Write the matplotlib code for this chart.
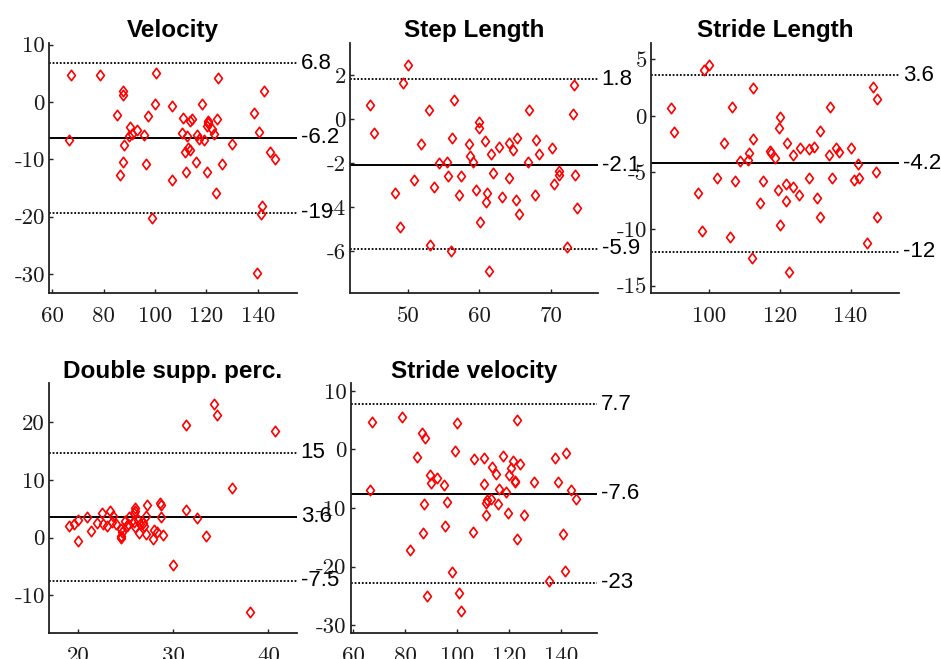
import numpy as np
import matplotlib
matplotlib.use("Agg")
import matplotlib.pyplot as plt
from matplotlib.path import Path

# ---------------- data ----------------
titles = ["Velocity", "Step Length", "Stride Length", "Double supp. perc.", "Stride velocity"]

vel_x = [67.3, 78.6, 100.5, 124.5, 87.4, 87.5, 142.3, 99.9, 106.8, 118.4, 85.1, 97.1, 110.9, 114.3,
         113.6, 124.2, 138.4, 120.5, 120.8, 120.1, 122.1, 122.9, 90.1, 92.9, 90.9, 89.7, 95.7, 110.5,
         112.5, 116.2, 117.0, 119.2, 140.4, 66.4, 87.9, 130.1, 113.0, 113.8, 111.6, 144.8, 146.9, 87.5,
         96.4, 115.8, 126.1, 86.5, 112.0, 120.3, 106.8, 123.8, 141.7, 141.3, 99.0, 139.6]
vel_y = [4.66, 4.66, 5.0, 4.2, 1.86, 1.28, 1.86, -0.4, -0.7, -0.3, -2.27, -2.45, -2.74, -2.9,
         -3.3, -3.0, -1.9, -3.3, -3.7, -4.2, -4.66, -5.5, -4.37, -4.9, -5.5, -5.9, -5.8, -5.4,
         -5.9, -5.8, -6.4, -6.7, -5.2, -6.6, -7.46, -7.3, -8.0, -8.3, -8.7, -8.7, -9.9, -10.4,
         -10.8, -10.5, -10.8, -12.8, -12.2, -12.2, -13.6, -15.9, -18.1, -19.6, -20.3, -29.8]

step_x = [50.0, 49.3, 73.2, 44.7, 56.5, 53.0, 67.0, 73.1, 60.0, 60.0, 45.2, 56.2, 65.3, 67.9, 51.9,
          58.6, 60.8, 62.7, 64.1, 64.7, 70.1, 61.6, 58.7, 68.4, 59.1, 54.4, 55.5, 66.8, 55.6, 57.5,
          61.9, 71.1, 71.2, 73.4, 50.9, 64.2, 70.5, 48.2, 53.6, 59.5, 61.0, 57.1, 63.1, 67.8, 60.9,
          65.1, 65.6, 73.6, 60.1, 48.9, 53.1, 56.0, 72.3, 61.4]
step_y = [2.43, 1.65, 1.54, 0.62, 0.86, 0.42, 0.39, 0.21, -0.12, -0.39, -0.62, -0.85, -0.85, -0.94,
          -1.13, -1.12, -1.01, -1.25, -1.1, -1.43, -1.33, -1.57, -1.68, -1.57, -1.96, -1.98, -1.95,
          -1.95, -2.61, -2.6, -2.46, -2.37, -2.54, -2.55, -2.75, -2.67, -2.94, -3.35, -3.11, -3.23,
          -3.37, -3.47, -3.55, -3.43, -3.76, -3.7, -4.32, -4.05, -4.68, -4.9, -5.72, -5.99, -5.8, -6.9]

sl_x = [99.9, 98.5, 112.5, 146.3, 147.4, 89.2, 106.3, 134.3, 120.1, 119.8, 90.0, 131.4, 112.5, 104.2,
        122.1, 125.8, 128.3, 129.5, 135.8, 136.8, 140.1, 117.2, 117.4, 111.3, 123.8, 133.9, 118.5,
        108.7, 110.9, 142.1, 147.2, 102.3, 107.3, 115.1, 128.3, 134.8, 141.0, 142.4, 121.8, 123.8,
        119.5, 96.8, 125.4, 121.8, 130.4, 114.3, 147.5, 131.3, 120.1, 98.0, 106.0, 144.6, 112.1, 122.6]
sl_y = [4.48, 4.09, 2.44, 2.59, 1.5, 0.74, 0.82, 0.8, -0.06, -1.06, -1.38, -1.3, -2.0, -2.39, -2.42,
        -2.86, -2.89, -2.74, -2.86, -3.15, -2.8, -3.06, -3.3, -3.3, -3.48, -3.5, -3.71, -3.98, -3.92,
        -4.27, -4.98, -5.45, -5.77, -5.77, -5.45, -5.45, -5.68, -5.45, -6.04, -6.24, -6.51, -6.8,
        -6.95, -7.51, -7.22, -7.66, -8.92, -8.92, -9.63, -10.16, -10.66, -11.19, -12.6, -13.8]

ds_x = [34.3, 34.6, 31.3, 40.7, 36.2, 27.2, 28.6, 28.7, 31.3, 23.3, 22.5, 25.9, 25.9, 25.8, 20.9,
        23.6, 27.1, 28.7, 32.5, 25.3, 20.0, 19.0, 19.5, 21.9, 22.6, 23.0, 23.5, 23.9, 24.9, 25.1,
        25.2, 25.8, 26.3, 26.5, 26.8, 26.9, 26.0, 24.5, 24.6, 24.5, 24.5, 21.3, 26.4, 27.1, 27.9,
        28.3, 27.8, 28.9, 33.4, 20.0, 29.9, 38.1]
ds_y = [23.2, 21.25, 19.6, 18.6, 8.7, 5.7, 6.0, 5.6, 4.86, 4.7, 4.3, 5.2, 4.7, 4.3, 3.6, 3.76, 3.7,
        3.6, 3.4, 3.6, 3.1, 2.0, 2.3, 2.5, 2.4, 2.1, 2.8, 2.3, 2.9, 2.1, 2.4, 2.7, 3.0, 2.4, 2.6, 2.1,
        1.85, 1.56, 1.0, 0.3, -0.06, 1.16, 0.87, 0.58, 1.39, 0.93, -0.23, 0.46, 0.29, -0.58, -4.8, -12.9]

sv_x = [67.1, 78.8, 99.7, 122.9, 86.3, 87.7, 99.2, 141.8, 84.5, 106.5, 110.3, 117.4, 121.3, 124.0,
        113.3, 120.6, 137.6, 115.0, 119.9, 122.1, 122.3, 89.4, 92.1, 89.9, 95.0, 110.3, 129.4, 138.7,
        66.4, 116.2, 118.6, 143.7, 145.6, 111.3, 113.0, 111.0, 115.5, 87.3, 96.0, 111.0, 119.5, 125.6,
        95.1, 86.9, 106.2, 140.8, 122.9, 81.7, 98.1, 141.4, 135.4, 88.2, 100.5, 101.5]
sv_y = [4.67, 5.58, 4.5, 5.0, 2.85, 2.0, -0.34, -0.63, -1.37, -1.7, -1.48, -1.2, -2.05, -2.5, -3.0,
        -3.2, -1.54, -4.2, -4.44, -5.36, -5.5, -4.4, -4.9, -5.7, -6.0, -5.9, -5.5, -5.5, -6.9, -6.7,
        -7.2, -6.9, -8.5, -8.66, -8.5, -9.1, -9.4, -9.4, -9.0, -11.2, -10.9, -11.2, -13.0, -14.2,
        -14.1, -14.4, -15.3, -17.1, -20.9, -20.7, -22.5, -25.1, -24.5, -27.6]

# mean difference and limits of agreement
means = [-6.2, -2.1, -4.2, 3.6, -7.6]
upper = [6.8, 1.8, 3.6, 14.7, 7.7]
lower = [-19.3, -5.9, -12.0, -7.5, -22.8]

xticks = [[60, 80, 100, 120, 140], [50, 60, 70], [100, 120, 140], [20, 30, 40], [60, 80, 100, 120, 140]]
yticks = [[-30, -20, -10, 0, 10], [-6, -4, -2, 0, 2], [-15, -10, -5, 0, 5], [-10, 0, 10, 20],
          [-30, -20, -10, 0, 10]]

xs = [vel_x, step_x, sl_x, ds_x, sv_x]
ys = [vel_y, step_y, sl_y, ds_y, sv_y]

# ---------------- layout / style ----------------
W, H = 941, 659
boxes_px = [(49, 43, 297, 293), (350, 43, 598, 293), (651, 43, 899, 293),
            (49, 383.3, 297, 632.7), (350.7, 383.3, 597.3, 632.7)]
xlims = [(58.7, 155.3), (41.9, 76.6), (83.5, 153.7), (16.9, 43.0), (59.0, 153.8)]
ylims = [(-33.3, 10.3), (-7.9, 3.45), (-15.65, 6.44), (-16.5, 26.8), (-31.3, 11.3)]

plt.rcParams['axes.unicode_minus'] = False
tick_font = ['cmr10', 'DejaVu Serif']
sans = ['Liberation Sans', 'DejaVu Sans']

diamond = Path([(0, 1), (0.75, 0), (0, -1), (-0.75, 0), (0, 1)],
               [Path.MOVETO, Path.LINETO, Path.LINETO, Path.LINETO, Path.CLOSEPOLY])

fig = plt.figure(figsize=(W / 100, H / 100), dpi=100)

for i in range(5):
    x0, y0, x1, y1 = boxes_px[i]
    ax = fig.add_axes([x0 / W, 1 - y1 / H, (x1 - x0) / W, (y1 - y0) / H])
    ax.set_xlim(*xlims[i])
    ax.set_ylim(*ylims[i])
    ax.plot(xs[i], ys[i], linestyle='none', marker=diamond, markersize=7.5,
            markerfacecolor='none', markeredgecolor='#ff0000', markeredgewidth=1.2, zorder=3)
    ax.axhline(means[i], color='black', lw=1.4, zorder=2)
    ax.axhline(upper[i], color='black', lw=1.3, linestyle=(0, (1, 1)), zorder=2)
    ax.axhline(lower[i], color='black', lw=1.3, linestyle=(0, (1, 1)), zorder=2)
    tr = ax.get_yaxis_transform()
    for v in (upper[i], means[i], lower[i]):
        ax.text(1.015, v, f"{v:.2g}", transform=tr, ha='left', va='center',
                fontsize=16, family=sans, color='black', clip_on=False)
    ax.set_title(titles[i], fontsize=17.5, fontweight='bold', family=sans, pad=4)
    ax.set_xticks(xticks[i])
    ax.set_yticks(yticks[i])
    ax.set_xticklabels([str(t) for t in xticks[i]], family=tick_font, fontsize=16.5, color='#1a1a1a')
    ax.set_yticklabels([str(t) for t in yticks[i]], family=tick_font, fontsize=16.5, color='#1a1a1a')
    ax.tick_params(direction='in', length=3, width=1.0, color='#222222')
    ax.tick_params(axis='x', pad=10)
    ax.tick_params(axis='y', pad=3)
    for s in ('top', 'right'):
        ax.spines[s].set_visible(False)
    for s in ('left', 'bottom'):
        ax.spines[s].set_linewidth(1.3)
        ax.spines[s].set_color('#222222')
    ax.patch.set_alpha(0)

fig.savefig('out.png', dpi=100)
